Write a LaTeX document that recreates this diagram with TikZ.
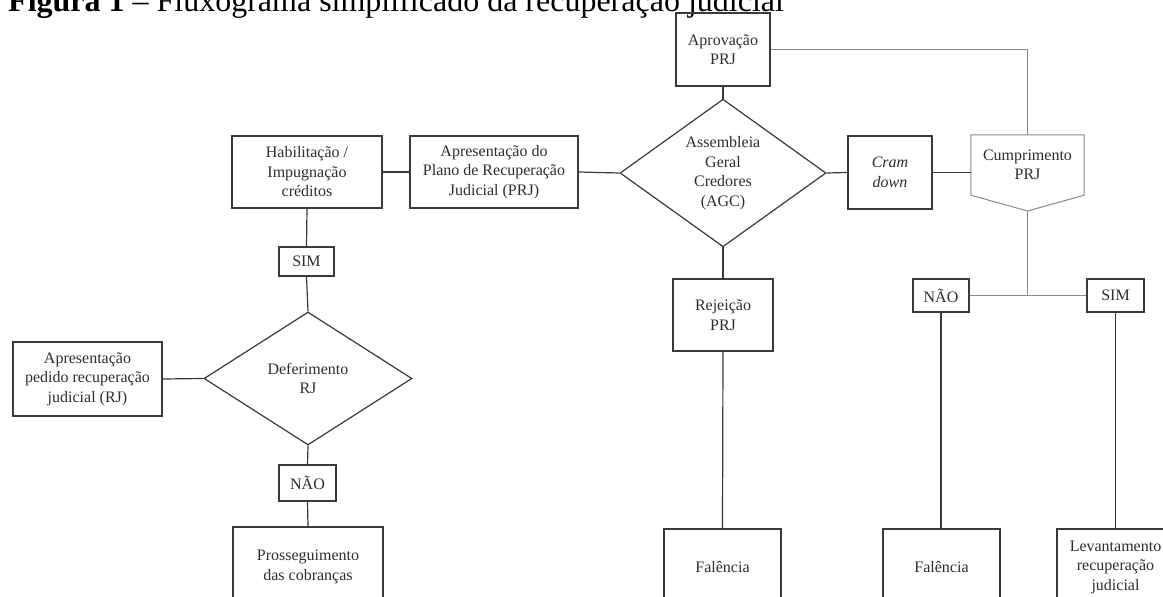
\documentclass[tikz,border=0pt]{standalone}
\usepackage{fontspec}
\setmainfont{Liberation Serif}
\usetikzlibrary{shapes.geometric}
\definecolor{ink}{HTML}{3A3A3A}
\definecolor{txt}{HTML}{2E2E2E}
\definecolor{light}{HTML}{8A8A8A}
\tikzset{
  box/.style={draw=ink, line width=1.2pt, rectangle, inner sep=0pt, align=center, text=txt,
    font=\fontsize{16}{19.5}\selectfont},
  dia/.style={draw=ink, line width=1.2pt, diamond, inner sep=0pt, align=center, text=txt,
    font=\fontsize{16}{19.5}\selectfont},
  plain/.style={rectangle, inner sep=0pt, align=center, text=txt,
    font=\fontsize{16}{19.5}\selectfont},
  link/.style={draw=ink, line width=1.2pt},
  glink/.style={draw=light, line width=1pt},
}
\begin{document}
\begin{tikzpicture}[x=1pt, y=-1pt]
\clip (0,0) rectangle (1163,597);
\fill[white] (0,0) rectangle (1163,597);
% title
\node[anchor=base west, inner sep=0pt, text=black, font=\fontsize{32}{36}\selectfont] (title) at (8,11)
  {\textbf{Figura 1} – Fluxograma simplificado da recuperação judicial};
% top row
\node[box, minimum width=94pt, minimum height=73pt] (aprov) at (723,49.5) {Aprovação\\PRJ};
\node[dia, minimum width=206pt, minimum height=134pt] (agc) at (723,173) {Assembleia\\Geral\\Credores\\(AGC)};
\node[box, minimum width=84pt, minimum height=73pt] (cram) at (890,172.5) {\textit{Cram}\\\textit{down}};
\node[plain, minimum width=113pt, minimum height=60pt] (cump) at (1027.5,165) {Cumprimento\\PRJ};
\coordinate (cumptip) at (1027.5,211);
\draw[draw=light, line width=1pt] (cump.north west) -- (cump.north east) -- (cump.south east)
  -- (cumptip) -- (cump.south west) -- cycle;
\node[box, minimum width=150pt, minimum height=72pt] (hab) at (307,172) {Habilitação /\\Impugnação\\créditos};
\node[box, minimum width=168pt, minimum height=72pt] (aprprj) at (494,172) {Apresentação do\\Plano de Recuperação\\Judicial (PRJ)};
% left branch
\node[box, minimum width=55pt, minimum height=29pt] (sim1) at (306.5,261.5) {SIM};
\node[dia, minimum width=208pt, minimum height=133pt] (def) at (308,378.5) {Deferimento\\RJ};
\node[box, minimum width=149pt, minimum height=74pt] (ped) at (87.5,379) {Apresentação\\pedido recuperação\\judicial (RJ)};
\node[box, minimum width=57pt, minimum height=36pt] (nao1) at (307.5,483) {NÃO};
\node[box, minimum width=150pt, minimum height=80pt] (pros) at (308,567) {Prosseguimento\\das cobranças};
% middle
\node[box, minimum width=100pt, minimum height=72pt] (rej) at (723,315) {Rejeição\\PRJ};
\node[box, minimum width=117pt, minimum height=76pt] (fal1) at (722.5,567) {Falência};
% right branch
\coordinate (junc) at (1027.5,295.5);
\node[box, minimum width=56pt, minimum height=33pt] (nao2) at (941,295.5) {NÃO};
\node[box, minimum width=57pt, minimum height=33pt] (sim2) at (1115.5,295.5) {SIM};
\node[box, minimum width=117pt, minimum height=76pt] (fal2) at (941.5,567) {Falência};
\node[box, minimum width=117pt, minimum height=76pt] (lev) at (1115.5,567) {Levantamento\\recuperação\\judicial};
% connectors
\draw[link] (aprov.south) -- (agc.north);
\draw[glink] (aprov.east) -| (cump.north);
\draw[link] (agc.west) -- (aprprj.east);
\draw[link] (aprprj.west) -- (hab.east);
\draw[link] (agc.east) -- (cram.west);
\draw[link] (cram.east) -- (cram.east -| cump.west);
\draw[link] (agc.south) -- (rej.north);
\draw[link] (rej.south) -- (fal1.north);
\draw[glink] (cumptip) -- (junc);
\draw[glink] (nao2.east) -- (junc) -- (sim2.west);
\draw[link] (nao2.south) -- (nao2.south |- fal2.north);
\draw[link] (sim2.south) -- (lev.north);
\draw[link] (hab.south) -- (sim1.north);
\draw[link] (sim1.south) -- (def.north);
\draw[link] (ped.east) -- (def.west);
\draw[link] (def.south) -- (nao1.north);
\draw[link] (nao1.south) -- (pros.north);
\end{tikzpicture}
\end{document}
